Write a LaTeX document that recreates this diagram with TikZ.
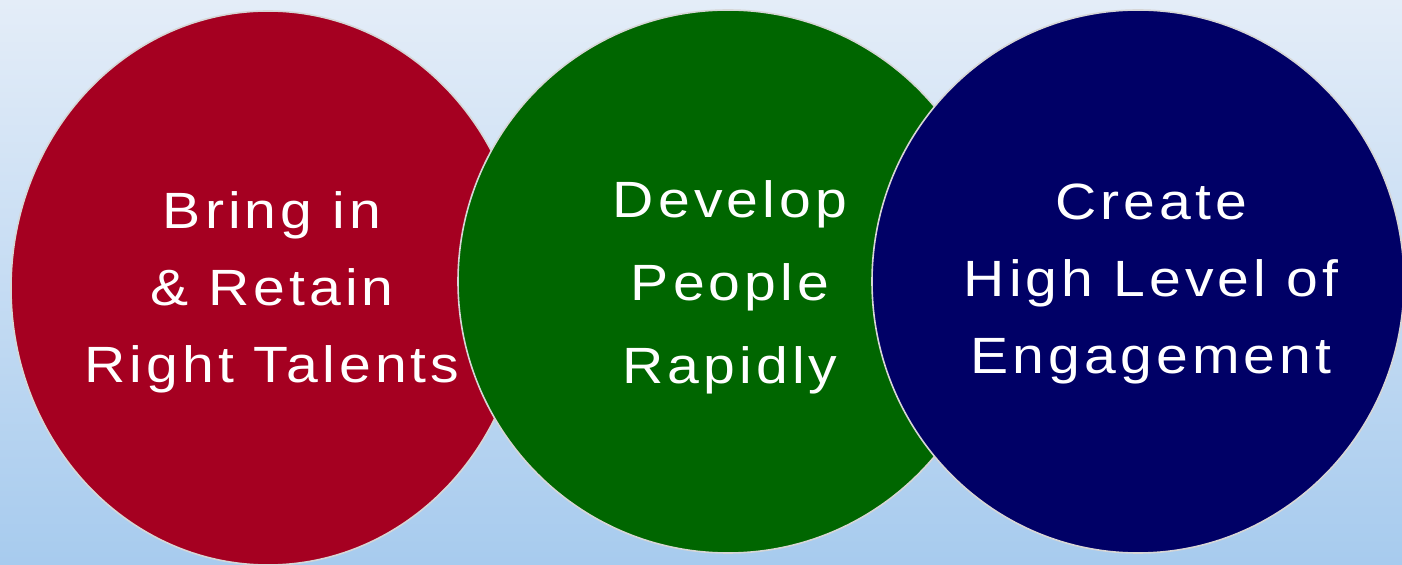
\documentclass[tikz,border=0pt]{standalone}
\usepackage{fontspec}
\newfontfamily\circfont[FakeStretch=1.12,LetterSpace=8]{Liberation Sans}
\definecolor{bgtop}{HTML}{E4EDF8}
\definecolor{bgbot}{HTML}{A7CBEE}
\definecolor{edgegray}{HTML}{D6D6D6}
\definecolor{talentred}{HTML}{A50021}
\definecolor{peoplegreen}{HTML}{006600}
\definecolor{engageblue}{HTML}{000066}

\begin{document}
\begin{tikzpicture}[x=0.5pt,y=-0.5pt,
  disc/.style={draw=edgegray,line width=0.8pt},
  lbl/.style={text=white,align=center,font=\circfont\fontsize{25.5}{38.5}\selectfont}]
  \useasboundingbox (0,0) rectangle (1402,565);
  \clip (0,0) rectangle (1402,565);
  \shade[top color=bgtop,bottom color=bgbot] (0,0) rectangle (1402,565);

  \coordinate (R) at (268,288);
  \coordinate (G) at (728,281.5);
  \coordinate (B) at (1138,281.5);

  % three overlapping discs, left to right
  \fill[talentred,disc] (R) ellipse (257 and 277);
  \fill[peoplegreen,disc] (G) ellipse (270 and 271.5);
  \fill[engageblue,disc] (B) ellipse (266 and 271.5);

  \node[lbl] (bring) at (272,292) {Bring in\\\& Retain\\Right Talents};
  \node[lbl,font=\circfont\fontsize{25.5}{41.5}\selectfont] (develop) at (730,287) {Develop\\People\\Rapidly};
  \node[lbl] (create) at (1151,283.5) {Create\\High Level of\\Engagement};
\end{tikzpicture}
\end{document}
